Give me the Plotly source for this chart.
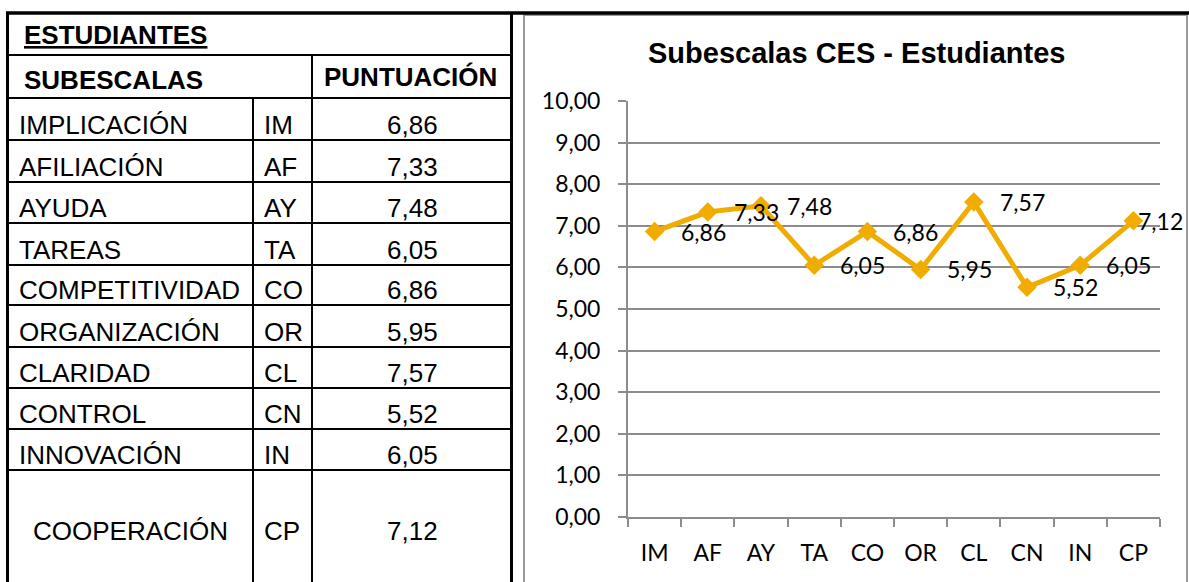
import plotly.graph_objects as go

# Datos de la tabla / grafico
subescalas = ['IMPLICACIÓN', 'AFILIACIÓN', 'AYUDA', 'TAREAS', 'COMPETITIVIDAD',
              'ORGANIZACIÓN', 'CLARIDAD', 'CONTROL', 'INNOVACIÓN', 'COOPERACIÓN']
codigos = ['IM', 'AF', 'AY', 'TA', 'CO', 'OR', 'CL', 'CN', 'IN', 'CP']
puntuacion = [6.86, 7.33, 7.48, 6.05, 6.86, 5.95, 7.57, 5.52, 6.05, 7.12]
y_ticks = [0, 1, 2, 3, 4, 5, 6, 7, 8, 9, 10]

W, H = 1189, 582
ORANGE = '#F0AC00'
GRID = '#8C8C8C'


def px(x):
    return x / W


def py(y):
    return 1 - y / H


def fmt(v):
    return f'{v:.2f}'.replace('.', ',')


fig = go.Figure()

# Serie del grafico
fig.add_trace(go.Scatter(
    x=codigos, y=puntuacion, mode='lines+markers',
    line=dict(color=ORANGE, width=5),
    marker=dict(symbol='diamond', size=15, color=ORANGE),
    hoverinfo='skip', showlegend=False,
))

# Etiquetas de datos (a la derecha de cada punto)
annotations = []
for i, (c, v) in enumerate(zip(codigos, puntuacion)):
    shift = 3 if i == len(codigos) - 1 else 24
    annotations.append(dict(
        x=c, y=v, xref='x', yref='y', text=fmt(v), showarrow=False,
        xanchor='left', yanchor='middle', xshift=shift, yshift=0,
        font=dict(family='Lato', size=23, color='black'),
    ))

# Titulo del grafico
annotations.append(dict(
    x=px(857), y=py(53), xref='paper', yref='paper',
    text='<b>Subescalas CES - Estudiantes</b>', showarrow=False,
    xanchor='center', yanchor='middle',
    font=dict(family='Liberation Sans', size=29, color='black'),
))

# ---- Tabla (izquierda) ----
row_edges = [12, 55, 98, 140, 182, 223, 265, 305, 347, 388, 429, 470, 582]
tfont = dict(family='Liberation Sans', size=26, color='black')

annotations.append(dict(x=px(22), y=py(35), xref='paper', yref='paper',
                        text='<b><u>ESTUDIANTES</u></b>', showarrow=False,
                        xanchor='left', yanchor='middle', font=tfont))
annotations.append(dict(x=px(22), y=py(80), xref='paper', yref='paper',
                        text='<b>SUBESCALAS</b>', showarrow=False,
                        xanchor='left', yanchor='middle', font=tfont))
annotations.append(dict(x=px(410), y=py(77), xref='paper', yref='paper',
                        text='<b>PUNTUACIÓN</b>', showarrow=False,
                        xanchor='center', yanchor='middle', font=tfont))

for i, (nom, cod, val) in enumerate(zip(subescalas, codigos, puntuacion)):
    bot = row_edges[i + 3]
    last = i == len(subescalas) - 1
    yc = 531 if last else bot - 15
    annotations.append(dict(x=px(130) if last else px(17), y=py(yc),
                            xref='paper', yref='paper', text=nom, showarrow=False,
                            xanchor='center' if last else 'left',
                            yanchor='middle', font=tfont))
    annotations.append(dict(x=px(262), y=py(yc), xref='paper', yref='paper',
                            text=cod, showarrow=False, xanchor='left',
                            yanchor='middle', font=tfont))
    annotations.append(dict(x=px(412), y=py(yc), xref='paper', yref='paper',
                            text=fmt(val), showarrow=False, xanchor='center',
                            yanchor='middle', font=tfont))

shapes = []


def line(x0, y0, x1, y1, w=2, color='black'):
    shapes.append(dict(type='line', xref='paper', yref='paper',
                       x0=px(x0), y0=py(y0), x1=px(x1), y1=py(y1),
                       line=dict(color=color, width=w)))


# borde gris del grafico
shapes.append(dict(type='rect', xref='paper', yref='paper',
                   x0=px(524), y0=py(600), x1=px(1187), y1=py(15),
                   line=dict(color='#9A9A9A', width=2), fillcolor='rgba(0,0,0,0)'))
# bordes exteriores de la tabla
line(6, 13, W, 13, w=3.5)
line(7.5, 12, 7.5, H, w=3)
line(511.5, 12, 511.5, H, w=3)
# lineas horizontales
for y in row_edges[1:-1]:
    line(7, y, 511, y)
# lineas verticales
line(312, 55, 312, H)
line(253, 98, 253, H)

fig.update_layout(
    width=W, height=H,
    margin=dict(l=0, r=0, t=0, b=0, autoexpand=False),
    paper_bgcolor='white', plot_bgcolor='white',
    separators=',.',
    annotations=annotations, shapes=shapes,
    xaxis=dict(
        domain=[px(628), px(1160)], type='category', range=[-0.5, 9.5],
        showgrid=False, zeroline=False, automargin=False,
        showline=True, linecolor=GRID, linewidth=2,
        ticks='outside', tickson='boundaries', ticklen=8, tickwidth=2, tickcolor=GRID,
        tickfont=dict(family='Lato', size=23, color='black'),
        ticklabelstandoff=14,
    ),
    yaxis=dict(
        domain=[py(517), py(101)], range=[0, 10], automargin=False,
        tickvals=y_ticks, tickformat='.2f',
        showgrid=True, gridcolor=GRID, gridwidth=2, zeroline=False,
        showline=True, linecolor=GRID, linewidth=2,
        ticks='outside', ticklen=8, tickwidth=2, tickcolor=GRID,
        tickfont=dict(family='Lato', size=23, color='black'),
        ticklabelstandoff=13,
    ),
)

fig.write_html('out.html', config={'displayModeBar': False},
               post_script="document.body.style.margin='0';")
